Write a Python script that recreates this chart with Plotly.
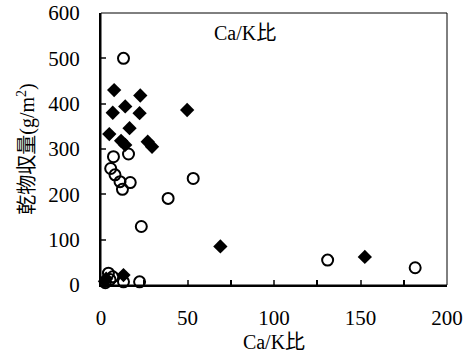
import plotly.graph_objects as go

# Filled diamonds
dia_x = [7.6, 22.7, 6.8, 14.0, 22.3, 16.5, 4.8, 11.6, 14.0, 27.0, 29.5, 49.8, 13.0, 69.0, 152.5, 2.3, 3.0]
dia_y = [430, 418, 380, 394, 379, 346, 333, 318, 309, 316, 305, 386, 22, 85, 62, 8, 14]

# Open circles
cir_x = [13.0, 7.2, 15.9, 5.6, 8.1, 11.0, 12.4, 16.9, 53.3, 38.8, 23.3, 131.0, 181.6, 4.3, 6.8, 13.0, 22.3, 5.2, 2.5]
cir_y = [500, 283, 289, 257, 243, 228, 211, 226, 235, 191, 129, 55, 38, 26, 18, 7, 7, 12, 5]

x_ticks = [0, 50, 100, 150, 200]
y_ticks = [0, 100, 200, 300, 400, 500, 600]

font_serif = "Times New Roman, Liberation Serif, DejaVu Serif, Noto Sans CJK JP, serif"

fig = go.Figure()
fig.add_trace(go.Scatter(
    x=dia_x, y=dia_y, mode="markers",
    marker=dict(symbol="diamond", size=11, color="black", line=dict(width=0)),
    showlegend=False, cliponaxis=False))
fig.add_trace(go.Scatter(
    x=cir_x, y=cir_y, mode="markers",
    marker=dict(symbol="circle-open", size=11, color="black", line=dict(width=2)),
    showlegend=False, cliponaxis=False))

fig.update_layout(
    width=470, height=354,
    margin=dict(l=101, r=23, t=13, b=69, autoexpand=False),
    paper_bgcolor="white", plot_bgcolor="white",
    font=dict(family=font_serif, size=20, color="black"),
    xaxis=dict(
        range=[0, 200], tickvals=x_ticks, ticks="inside", ticklen=5, tickwidth=1.5,
        showgrid=False, zeroline=False, showline=True, linewidth=2, linecolor="black",
        automargin=False, ticklabelstandoff=13, ticklabeloverflow="allow",
        minor=dict(dtick=25, tick0=0, ticks="inside", ticklen=5, tickwidth=1.5, tickcolor="black"),
        title=dict(text="Ca/K比", standoff=6, font=dict(size=20, family=font_serif)),
        tickfont=dict(size=21, family=font_serif),
    ),
    yaxis=dict(
        range=[0, 600], tickvals=y_ticks, ticks="inside", ticklen=5, tickwidth=1.5,
        showgrid=False, zeroline=False, showline=True, linewidth=2, linecolor="black",
        automargin=False, ticklabelstandoff=15, ticklabeloverflow="allow",
        title=dict(text="乾物収量(g/m<sup>2</sup>)", standoff=8, font=dict(size=20, family=font_serif)),
        tickfont=dict(size=21, family=font_serif),
    ),
    shapes=[dict(type="rect", xref="paper", yref="paper", x0=0, y0=0, x1=1, y1=1,
                 line=dict(color="black", width=1), layer="above")],
    annotations=[dict(text="Ca/K比", xref="paper", yref="paper", x=0.416, y=0.926,
                      xanchor="center", yanchor="middle",
                      showarrow=False, font=dict(size=20, family=font_serif))],
)

fig.write_html("out.html")
